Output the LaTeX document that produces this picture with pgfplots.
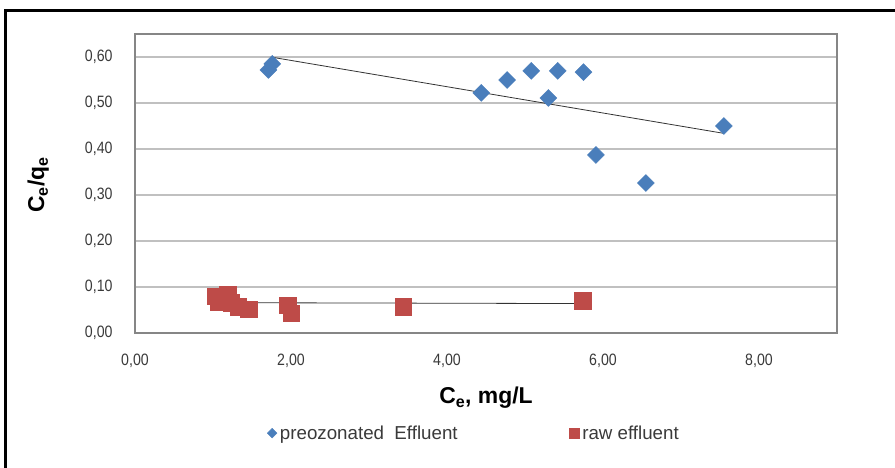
\documentclass[border=0pt]{standalone}
\usepackage{pgfplots}
\pgfplotsset{compat=1.18}
\usepackage{fontspec}
\setmainfont{Liberation Sans}
\newfontfamily\tickfont[FakeStretch=0.86]{Liberation Sans}

\definecolor{serBlue}{HTML}{4A7EBB}
\definecolor{serRed}{HTML}{BE4B48}
\definecolor{gridGray}{HTML}{C0C0C0}
\definecolor{frameGray}{HTML}{868686}
\definecolor{tickText}{HTML}{3A3A3A}

% preozonated effluent: Ce (mg/L), Ce/qe
\pgfplotstableread{
x    y
1.71 0.572
1.76 0.585
4.44 0.522
4.77 0.550
5.08 0.570
5.42 0.570
5.75 0.567
5.30 0.511
5.91 0.387
6.55 0.326
7.55 0.450
}\preozonated

% raw effluent: Ce (mg/L), Ce/qe
\pgfplotstableread{
x    y
1.03 0.080
1.19 0.084
1.07 0.068
1.23 0.066
1.32 0.057
1.46 0.052
1.96 0.061
2.00 0.043
3.44 0.057
5.74 0.070
}\raw

\begin{document}
\begin{tikzpicture}
\path[use as bounding box] (0bp,0bp) rectangle (895bp,-468bp);
\fill[white] (0bp,0bp) rectangle (895bp,-468bp);
\draw[line width=3bp, black] (5bp,-470bp) -- (5bp,-10bp) -- (897bp,-10bp);
\begin{axis}[
  at={(135bp,-333bp)}, anchor=south west,
  scale only axis, width=702bp, height=299bp,
  xmin=0, xmax=9, ymin=0, ymax=0.65,
  xtick={0,2,4,6,8},
  ytick={0,0.1,0.2,0.3,0.4,0.5,0.6},
  /pgf/number format/.cd, fixed, fixed zerofill, precision=2, use comma, assume math mode=true,
  /pgfplots/.cd,
  ticklabel style={font=\tickfont\fontsize{16.5}{18}\selectfont, text=tickText},
  xticklabel style={anchor=center, yshift=-28bp},
  yticklabel style={anchor=east, xshift=-19bp},
  tick style={draw=none},
  ymajorgrids,
  major grid style={draw=gridGray, line width=1.6bp},
  axis line style={draw=frameGray, line width=1.3bp},
  xlabel={\textbf{C\textsubscript{e}, mg/L}},
  ylabel={\textbf{C\textsubscript{e}/q\textsubscript{e}}},
  label style={font=\fontsize{23}{26}\selectfont, text=black},
  xlabel style={at={(rel axis cs:0.5,0)}, anchor=center, yshift=-65bp},
  ylabel style={at={(rel axis cs:-0.138,0.495)}, anchor=center},
  legend columns=2,
  legend style={at={(rel axis cs:0.184,-0.335)}, anchor=west, draw=none, fill=none,
    font=\fontsize{18.8}{22}\selectfont, text=tickText,
    /tikz/every even column/.append style={column sep=110bp},
    /tikz/every odd column/.append style={column sep=1bp}},
  clip=false,
]
\addplot[only marks, mark=square*, mark size=6bp, mark options={rotate=45, draw=serBlue, fill=serBlue},
  legend image post style={mark size=3.4bp}] table[x=x,y=y] {\preozonated};
\addlegendentry{preozonated\ \ Effluent}
\addplot[only marks, mark=square*, mark size=8.2bp, mark options={draw=serRed, fill=serRed},
  legend image post style={mark size=4.8bp}] table[x=x,y=y] {\raw};
\addlegendentry{raw effluent}
% linear trend lines
\addplot[forget plot, black!80, line width=0.8bp] coordinates {(1.74,0.600) (7.55,0.434)};
\addplot[forget plot, black!80, line width=0.8bp] coordinates {(1.03,0.066) (5.74,0.064)};
\end{axis}
\end{tikzpicture}
\end{document}
